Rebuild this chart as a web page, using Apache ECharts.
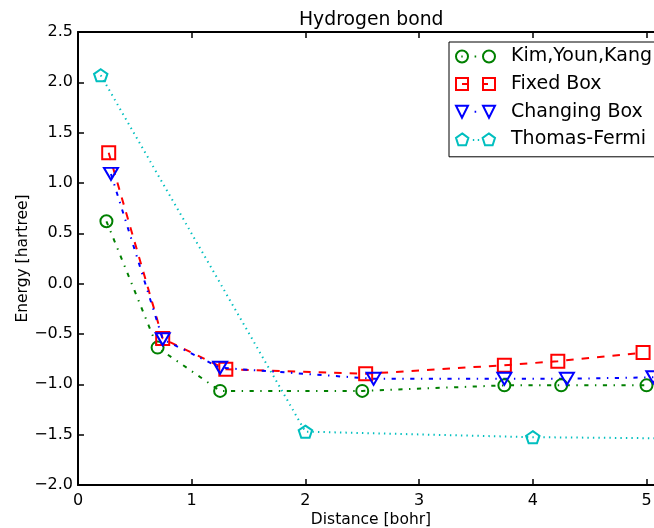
<!DOCTYPE html>
<html>
<head>
<meta charset="utf-8">
<script src="https://cdn.jsdelivr.net/npm/echarts@6/dist/echarts.min.js"></script>
<style>html,body{margin:0;padding:0;background:#fff}#c{width:654px;height:528px}</style>
</head>
<body>
<div id="c"></div>
<script>
// ---- data ----
const xKim = [0.25, 0.70, 1.25, 2.50, 3.75, 4.25, 5.00];
const yKim = [0.62, -0.635, -1.065, -1.065, -1.01, -1.01, -1.01];

const xFixed = [0.27, 0.745, 1.30, 2.53, 3.75, 4.22, 4.97];
const yFixed = [1.30, -0.545, -0.85, -0.895, -0.81, -0.77, -0.685];

const xChanging = [0.29, 0.745, 1.25, 2.60, 3.75, 4.30, 5.06];
const yChanging = [1.09, -0.552, -0.835, -0.945, -0.945, -0.945, -0.93];

const xTF = [0.20, 2.00, 4.00, 6.00];
const yTF = [2.07, -1.47, -1.525, -1.545];

const seriesNames = ['Kim,Youn,Kang', 'Fixed Box', 'Changing Box', 'Thomas-Fermi'];
const yTicks = [-2.0, -1.5, -1.0, -0.5, 0.0, 0.5, 1.0, 1.5, 2.0, 2.5];
const xTicks = [0, 1, 2, 3, 4, 5];

// ---- styling ----
const FONT = 'DejaVu Sans';
const GREEN = '#008000', RED = '#ff0000', BLUE = '#0000ff', CYAN = '#00bfbf';
const pentagon = 'path://M0,-1 L0.951,-0.309 L0.588,0.809 L-0.588,0.809 L-0.951,-0.309 Z';

const pair = (xs, ys) => xs.map((x, i) => [x, ys[i]]);

// legend icons: two markers joined like matplotlib's numpoints=2
const iconCircle = 'path://M1,7 A6,6 0 1,1 13,7 A6,6 0 1,1 1,7 Z M28,7 A6,6 0 1,1 40,7 A6,6 0 1,1 28,7 Z M19.6,7 L21.2,7 M6.3,7 L7.7,7';
const iconSquare = 'path://M1,1 L13,1 L13,13 L1,13 Z M28,1 L40,1 L40,13 L28,13 Z M7,7 L13,7 M28,7 L33,7';
const iconTri = 'path://M1,1 L13,1 L7,13 Z M28,1 L40,1 L34,13 Z M19.6,7 L21.2,7';
function penta(cx) {
  const r = 6.6, cy = 7.3, p = [];
  for (let k = 0; k < 5; k++) {
    const a = (-90 + 72 * k) * Math.PI / 180;
    p.push((cx + r * Math.cos(a)).toFixed(2) + ',' + (cy + r * Math.sin(a)).toFixed(2));
  }
  return 'M' + p.join(' L') + ' Z';
}
const iconPenta = 'path://' + penta(7) + ' ' + penta(34) + ' M17.8,7.3 L19.2,7.3 M22.8,7.3 L24.2,7.3';

const dashed = [7.5, 8];
const dashdot = [4.2, 6.5, 1.4, 6.5];
const dotted = [1.4, 4.1];

function mkSeries(name, data, color, symbol, size, dash, extra) {
  return Object.assign({
    name, type: 'line', data,
    symbol, symbolSize: size, symbolKeepAspect: true,
    showSymbol: true, clip: true,
    itemStyle: { color: 'rgba(0,0,0,0)', borderColor: color, borderWidth: 2 },
    lineStyle: { color, width: 2, type: dash },
    emphasis: { disabled: true },
    animation: false
  }, extra || {});
}

const axisCommon = {
  type: 'value',
  axisLine: { show: true, onZero: false, lineStyle: { color: '#000', width: 2 } },
  axisTick: { show: true, inside: true, length: 6, lineStyle: { color: '#000', width: 1.5 } },
  splitLine: { show: false }
};

const chart = echarts.init(document.getElementById('c'), null, { renderer: 'canvas' });
chart.setOption({
  backgroundColor: '#fff',
  animation: false,
  textStyle: { fontFamily: FONT },
  title: {
    text: 'Hydrogen bond', left: 299, top: 11, padding: 0,
    textStyle: { fontFamily: FONT, fontSize: 18.8, fontWeight: 'normal', color: '#000' }
  },
  grid: { left: 78, top: 32, width: 586, height: 453, containLabel: false, outerBoundsMode: 'none' },
  legend: {
    orient: 'vertical', left: 449, top: 42,
    padding: [5, 8, 8, 6],
    itemGap: 8.6, itemWidth: 39, itemHeight: 12,
    backgroundColor: '#fff', borderColor: '#000', borderWidth: 1, borderRadius: 0,
    selectedMode: false,
    formatter: '{t|{name}}',
    textStyle: {
      fontFamily: FONT, fontSize: 19, color: '#000',
      rich: { t: { fontFamily: FONT, fontSize: 19, lineHeight: 20, color: '#000', padding: [0, 0, 0, 11] } }
    },
    data: [
      { name: seriesNames[0], icon: iconCircle, itemStyle: { color: 'rgba(0,0,0,0)', borderColor: GREEN, borderWidth: 2 } },
      { name: seriesNames[1], icon: iconSquare, itemStyle: { color: 'rgba(0,0,0,0)', borderColor: RED, borderWidth: 2 } },
      { name: seriesNames[2], icon: iconTri, itemStyle: { color: 'rgba(0,0,0,0)', borderColor: BLUE, borderWidth: 2 } },
      { name: seriesNames[3], icon: iconPenta, itemStyle: { color: 'rgba(0,0,0,0)', borderColor: CYAN, borderWidth: 2 } }
    ]
  },
  xAxis: [
    Object.assign({}, axisCommon, {
      min: 0, max: 5.154, interval: 1, position: 'bottom',
      name: 'Distance [bohr]', nameLocation: 'middle', nameGap: 27, nameMoveOverlap: false,
      nameTextStyle: { fontFamily: FONT, fontSize: 15.5, color: '#000' },
      axisLabel: {
        show: true, margin: 8, fontFamily: FONT, fontSize: 16, color: '#000',
        formatter: v => xTicks.indexOf(v) >= 0 ? String(v) : ''
      }
    }),
    Object.assign({}, axisCommon, {
      min: 0, max: 5.154, interval: 1, position: 'top',
      axisLabel: { show: false }
    })
  ],
  yAxis: [
    Object.assign({}, axisCommon, {
      min: -2, max: 2.5, interval: 0.5, position: 'left',
      name: 'Energy [hartree]', nameLocation: 'middle', nameGap: 47, nameMoveOverlap: false,
      nameTextStyle: { fontFamily: FONT, fontSize: 15.5, color: '#000' },
      axisLabel: {
        show: true, margin: 5, fontFamily: FONT, fontSize: 16, color: '#000',
        formatter: v => {
          const t = yTicks.find(k => Math.abs(k - v) < 1e-9);
          return t === undefined ? '' : t.toFixed(1).replace('-', '\u2212');
        }
      }
    }),
    Object.assign({}, axisCommon, {
      min: -2, max: 2.5, interval: 0.5, position: 'right',
      axisLabel: { show: false }
    })
  ],
  series: [
    mkSeries(seriesNames[0], pair(xKim, yKim), GREEN, 'circle', 12, dashdot),
    mkSeries(seriesNames[1], pair(xFixed, yFixed), RED, 'rect', 13, dashed),
    mkSeries(seriesNames[2], pair(xChanging, yChanging), BLUE, 'triangle', [14, 12], dashdot, { symbolRotate: 180 }),
    mkSeries(seriesNames[3], pair(xTF, yTF), CYAN, pentagon, [13.4, 12.7], dotted)
  ]
});
</script>
</body>
</html>
